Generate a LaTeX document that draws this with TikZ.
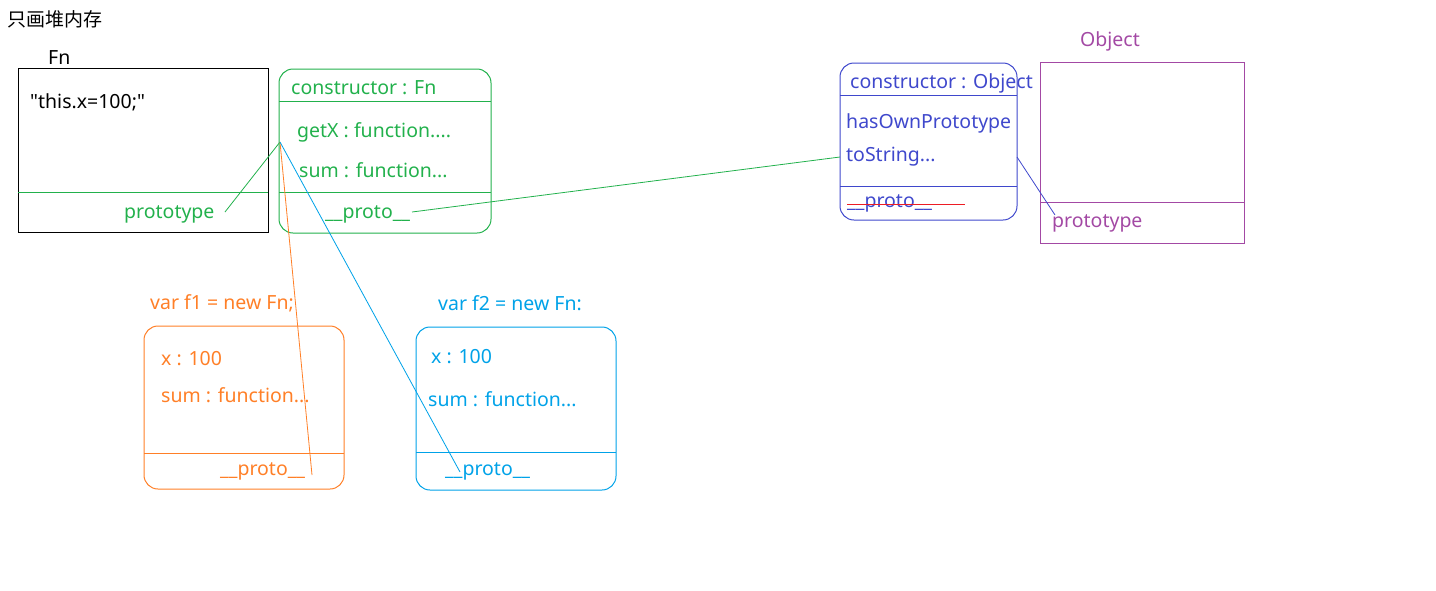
\documentclass[tikz,border=0pt]{standalone}
\usepackage{fontspec}
\newfontfamily\latfont{Noto Sans}
\newfontfamily\cjkfont{Noto Sans CJK SC}
\begin{document}
\begin{tikzpicture}[x=1pt,y=-1pt,
  lbl/.style={anchor=west,inner sep=0pt,yshift=-1.5pt,font=\latfont\fontsize{19.5}{22}\selectfont},
  ln/.style={line width=1pt},
  thin/.style={line width=0.8pt}]
\definecolor{pgreen}{HTML}{22B14C}
\definecolor{porange}{HTML}{FF7F27}
\definecolor{pcyan}{HTML}{00A2E8}
\definecolor{pblue}{HTML}{3F48CC}
\definecolor{ppurple}{HTML}{A349A4}
\definecolor{pred}{HTML}{ED1C24}
\useasboundingbox (0,0) rectangle (1436,590);
% title
\node[lbl,font=\cjkfont\fontsize{19}{22}\selectfont] (title) at (7,18) {只画堆内存};
% Fn box
\node[lbl] (fnname) at (48,56) {Fn};
\draw[ln] (18,68) rectangle (268,232);
\draw[ln,pgreen] (18,192) -- (268,192);
\node[lbl] (fnbody) at (30,101) {"this.x=100;"};
\node[lbl,text=pgreen] (fnproto) at (124,213) {prototype};
% Fn prototype box
\draw[ln,pgreen,rounded corners=14pt] (279,69) rectangle (491,233);
\draw[ln,pgreen] (279,101) -- (491,101);
\draw[ln,pgreen] (279,192) -- (491,192);
\node[lbl,text=pgreen] (ctorfn) at (291,86) {constructor : Fn};
\node[lbl,text=pgreen] (getx) at (297,131) {getX : function....};
\node[lbl,text=pgreen] (sum) at (299,169) {sum : function...};
\node[lbl,text=pgreen] (pproto) at (325,213) {\_\_proto\_\_};
\coordinate (fnp) at (280,142);
% Object prototype box
\draw[ln,pblue,rounded corners=14pt] (840,63) rectangle (1017,220);
\draw[ln,pblue] (840,95) -- (1017,95);
\draw[ln,pblue] (840,186) -- (1017,186);
\node[lbl,text=pblue] (ctorobj) at (850,82) {constructor : Object};
\node[lbl,text=pblue] (hasown) at (846,122) {hasOwnPrototype};
\node[lbl,text=pblue] (tostr) at (846,155) {toString...};
\node[lbl,text=pblue] (oproto) at (847,202) {\_\_proto\_\_};
\draw[ln,pred] (847,204) -- (965,204);
% Object box
\node[lbl,text=ppurple] (objname) at (1080,40) {Object};
\draw[ln,ppurple] (1040,62) rectangle (1244,243);
\draw[ln,ppurple] (1040,202) -- (1244,202);
\node[lbl,text=ppurple] (objproto) at (1052,222) {prototype};
% f1
\node[lbl,text=porange] (f1name) at (150,302) {var f1 = new Fn;};
\draw[ln,porange,rounded corners=14pt] (144,326) rectangle (344,489);
\draw[ln,porange] (144,453) -- (344,453);
\node[lbl,text=porange] (f1x) at (161,357) {x : 100};
\node[lbl,text=porange] (f1sum) at (161,394) {sum : function...};
\node[lbl,text=porange] (f1proto) at (220,470) {\_\_proto\_\_};
% f2
\node[lbl,text=pcyan] (f2name) at (438,302) {var f2 = new Fn:};
\draw[ln,pcyan,rounded corners=14pt] (416,327) rectangle (616,490);
\draw[ln,pcyan] (416,452) -- (616,452);
\node[lbl,text=pcyan] (f2x) at (431,355) {x : 100};
\node[lbl,text=pcyan] (f2sum) at (428,398) {sum : function...};
\node[lbl,text=pcyan] (f2proto) at (445,470) {\_\_proto\_\_};
% connectors
\coordinate (pEnd) at (225,212);
\coordinate (f1End) at (312,475);
\coordinate (f2End) at (460,472);
\coordinate (ppEnd) at (412,212);
\coordinate (tsEnd) at (840,157);
\coordinate (obEnd) at (1017,157);
\coordinate (opEnd) at (1055,215);
\draw[thin,pgreen] (pEnd) -- (fnp);
\draw[thin,porange] (fnp) -- (f1End);
\draw[thin,pcyan] (fnp) -- (f2End);
\draw[thin,pgreen] (ppEnd) -- (tsEnd);
\draw[thin,pblue] (obEnd) -- (opEnd);
\end{tikzpicture}
\end{document}
